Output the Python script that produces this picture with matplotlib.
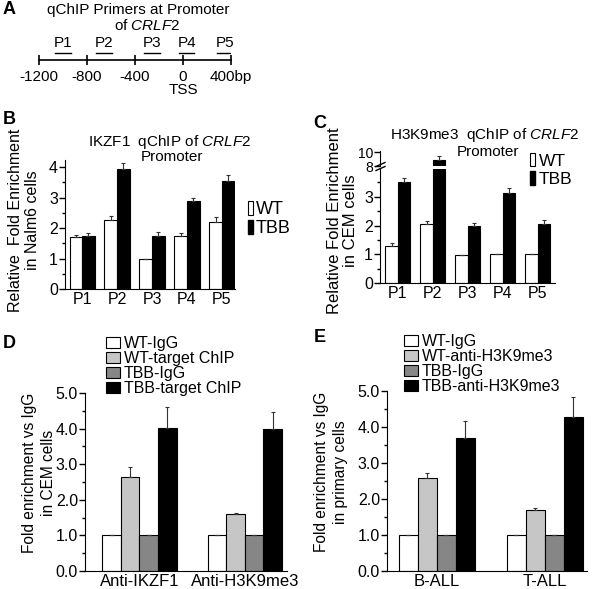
import matplotlib
matplotlib.use("Agg")
import matplotlib.pyplot as plt
import numpy as np
from matplotlib.patches import Patch
from matplotlib.lines import Line2D

plt.rcParams['font.family'] = ['Liberation Sans', 'DejaVu Sans']
plt.rcParams['mathtext.fontset'] = 'custom'
plt.rcParams['mathtext.rm'] = 'Liberation Sans'
plt.rcParams['mathtext.it'] = 'Liberation Sans:italic'

# A - primer map
ruler_ticks = [-1200, -800, -400, 0, 400]
ruler_labels = ['-1200', '-800', '-400', '0\nTSS', '400bp']
primer_names = ['P1', 'P2', 'P3', 'P4', 'P5']
primer_pos = [-1000, -660, -260, 30, 350]

# B - IKZF1 qChIP, Nalm6
sites = ['P1', 'P2', 'P3', 'P4', 'P5']
ikzf1_wt = [1.70, 2.27, 0.97, 1.75, 2.20]
ikzf1_wt_err = [0.07, 0.12, 0.02, 0.10, 0.15]
ikzf1_tbb = [1.75, 3.92, 1.75, 2.90, 3.55]
ikzf1_tbb_err = [0.07, 0.20, 0.12, 0.08, 0.20]

# C - H3K9me3 qChIP, CEM (P2 TBB sits above the axis break)
h3k9_wt = [1.30, 2.05, 0.96, 1.00, 1.00]
h3k9_wt_err = [0.08, 0.12, 0.02, 0.01, 0.02]
h3k9_tbb = [3.50, 8.90, 1.97, 3.12, 2.05]
h3k9_tbb_err = [0.15, 0.50, 0.12, 0.20, 0.15]

# D - CEM cells
d_groups = ['Anti-IKZF1', 'Anti-H3K9me3']
d_series = ['WT-IgG', 'WT-target ChIP', 'TBB-IgG', 'TBB-target ChIP']
d_vals = [[1.0, 1.0], [2.64, 1.60], [1.0, 1.0], [4.02, 3.98]]
d_errs = [[0.0, 0.01], [0.27, 0.02], [0.02, 0.02], [0.58, 0.49]]

# E - primary cells
e_groups = ['B-ALL', 'T-ALL']
e_series = ['WT-IgG', 'WT-anti-H3K9me3', 'TBB-IgG', 'TBB-anti-H3K9me3']
e_vals = [[1.0, 1.0], [2.57, 1.69], [1.0, 1.0], [3.69, 4.28]]
e_errs = [[0.0, 0.0], [0.15, 0.05], [0.0, 0.0], [0.48, 0.55]]

four_colors = ['white', '#c6c6c6', '#868686', 'black']
W, H = 600, 589


def box(l, t, r, b):
    # pixel box -> figure fraction
    return [l / W, 1 - b / H, (r - l) / W, (b - t) / H]


def style_axes(ax, fs):
    for s in ['top', 'right']:
        ax.spines[s].set_visible(False)
    ax.tick_params(axis='x', length=0, labelsize=fs, pad=2)
    ax.tick_params(axis='y', which='major', length=4, width=1, labelsize=fs, pad=1)
    ax.tick_params(axis='y', which='minor', length=2.5, width=1)


fig = plt.figure(figsize=(6, 5.89), dpi=100)

# ---- A ----
axA = fig.add_axes(box(39, 30, 231, 60))
axA.set_xlim(-1200, 400)
axA.set_ylim(0, 1)
for s in ['top', 'right', 'left']:
    axA.spines[s].set_visible(False)
axA.spines['bottom'].set_linewidth(1.2)
axA.set_yticks([])
axA.set_xticks(ruler_ticks)
axA.set_xticklabels(ruler_labels, fontsize=11, linespacing=0.9)
axA.tick_params(axis='x', direction='inout', length=7, width=1.2, pad=4)
for name, p in zip(primer_names, primer_pos):
    axA.text(p, 0.57, name, ha='center', va='center', fontsize=11)
    axA.plot([p - 65, p + 65], [0.23, 0.23], color='black', lw=1)
fig.text(138 / W, 1 - 10 / H, 'qChIP Primers at Promoter', ha='center', va='center', fontsize=11)
fig.text(147 / W, 1 - 26 / H, r'of $\it{CRLF2}$', ha='center', va='center', fontsize=11)

ekw = dict(ecolor='#333333', elinewidth=0.8, capsize=1.5, capthick=0.8)

# ---- B ----
bw = 0.36
x = np.arange(len(sites))
axB = fig.add_axes(box(65, 160, 234.5, 289))
axB.bar(x - bw / 2, ikzf1_wt, bw, color='white', edgecolor='black', lw=0.8,
        yerr=[np.zeros(5), ikzf1_wt_err], error_kw=ekw, label='WT')
axB.bar(x + bw / 2, ikzf1_tbb, bw, color='black', edgecolor='black', lw=0.8,
        yerr=[np.zeros(5), ikzf1_tbb_err], error_kw=ekw, label='TBB')
axB.set_xlim(-0.49, 4.36)
axB.set_ylim(0, 4.23)
axB.set_yticks([0, 1, 2, 3, 4])
axB.set_yticks(np.arange(0.5, 4.1, 1), minor=True)
axB.set_xticks(x)
axB.set_xticklabels(sites)
style_axes(axB, 11.5)
axB.set_ylabel('Relative  Fold Enrichment\nin Nalm6 cells', fontsize=11.5, linespacing=1.1)
axB.yaxis.set_label_coords(-0.15, 0.535)
fig.text(170 / W, 1 - 142 / H, r'IKZF1  qChIP of $\it{CRLF2}$', ha='center', va='center', fontsize=11)
fig.text(172 / W, 1 - 157 / H, 'Promoter', ha='center', va='center', fontsize=11)
hB = [Patch(facecolor='white', edgecolor='black', lw=0.8), Patch(facecolor='black', edgecolor='black')]
fig.legend(hB, ['WT', 'TBB'], loc='upper left', bbox_to_anchor=(248 / W, 1 - 201 / H),
           frameon=False, fontsize=13, handlelength=0.3, handleheight=0.8,
           handletextpad=0.15, labelspacing=0.1, borderpad=0, borderaxespad=0)

# ---- C (broken axis) ----
axC = fig.add_axes(box(380, 169, 555, 283))
axC2 = fig.add_axes(box(380, 151, 555, 166))
for a in (axC, axC2):
    a.bar(x - bw / 2, h3k9_wt, bw, color='white', edgecolor='black', lw=0.8,
          yerr=[np.zeros(5), h3k9_wt_err], error_kw=ekw)
    a.bar(x + bw / 2, h3k9_tbb, bw, color='black', edgecolor='black', lw=0.8,
          yerr=[np.zeros(5), h3k9_tbb_err], error_kw=ekw)
    a.set_xlim(-0.51, 4.49)
axC.set_ylim(0, 3.97)
axC.set_yticks([0, 1, 2, 3])
axC.set_yticks(np.arange(0.5, 3.6, 1), minor=True)
axC.set_xticks(x)
axC.set_xticklabels(sites)
style_axes(axC, 11.5)
axC2.set_ylim(8.0, 10.2)
axC2.set_yticks([8, 10])
axC2.set_xticks([])
style_axes(axC2, 10)
axC2.spines['bottom'].set_visible(False)
axC2.patch.set_visible(False)
axC.set_ylabel('Relative Fold Enrichment\nin CEM cells', fontsize=12, linespacing=1.1)
axC.yaxis.set_label_coords(-0.125, 0.55)
# break marks
for yb in (164.5, 168.5):
    fig.add_artist(Line2D([376 / W, 385 / W], [1 - (yb + 2) / H, 1 - (yb - 2) / H],
                          color='black', lw=1))
fig.text(485 / W, 1 - 135 / H, r'H3K9me3  qChIP of $\it{CRLF2}$', ha='center', va='center', fontsize=11)
fig.text(488 / W, 1 - 152 / H, 'Promoter', ha='center', va='center', fontsize=11)
fig.legend(hB, ['WT', 'TBB'], loc='upper left', bbox_to_anchor=(530 / W, 1 - 153 / H),
           frameon=False, fontsize=12.5, handlelength=0.3, handleheight=0.8,
           handletextpad=0.2, labelspacing=0.15, borderpad=0, borderaxespad=0)


# ---- D / E ----
def grouped(rect, groups, series, vals, errs, xlim, ylabel, leg_anchor):
    ax = fig.add_axes(rect)
    w = 0.176
    gx = np.arange(len(groups))
    for i, (name, v, e) in enumerate(zip(series, vals, errs)):
        ax.bar(gx + (i - 1.5) * w, v, w, color=four_colors[i], edgecolor='black', lw=0.8,
               yerr=[np.zeros(len(v)), e], error_kw=ekw, label=name)
    ax.set_xlim(*xlim)
    ax.set_ylim(0, 5.0)
    ax.set_yticks(np.arange(0, 5.1, 1))
    ax.set_yticklabels([f'{t:.1f}' for t in np.arange(0, 5.1, 1)])
    ax.set_yticks(np.arange(0.5, 5, 1), minor=True)
    ax.set_xticks(gx)
    ax.set_xticklabels(groups)
    style_axes(ax, 11.5)
    ax.tick_params(axis='x', labelsize=12)
    ax.set_ylabel(ylabel, fontsize=11.2, linespacing=1.3)
    ax.legend(loc='upper left', bbox_to_anchor=leg_anchor, bbox_transform=fig.transFigure,
              frameon=False, fontsize=11.5, handlelength=0.85, handleheight=0.65,
              handletextpad=0.25, labelspacing=0.0, borderpad=0, borderaxespad=0)
    return ax


axD = grouped(box(85, 393, 287, 571), d_groups, d_series, d_vals, d_errs, (-0.517, 1.40),
              'Fold enrichment vs IgG\nin CEM cells', (106 / W, 1 - 336 / H))
axD.yaxis.set_label_coords(-0.145, 0.55)
axE = grouped(box(387, 391, 587, 571), e_groups, e_series, e_vals, e_errs, (-0.463, 1.39),
              'Fold enrichment vs IgG\nin primary cells', (404 / W, 1 - 334 / H))
axE.yaxis.set_label_coords(-0.195, 0.55)

# panel letters
for lab, px, py in [('A', 3, 10), ('B', 3, 120), ('C', 313, 123), ('D', 3, 343), ('E', 314, 337)]:
    fig.text(px / W, 1 - py / H, lab, ha='left', va='center', fontsize=13, fontweight='bold')

fig.savefig('out.png', dpi=100)
